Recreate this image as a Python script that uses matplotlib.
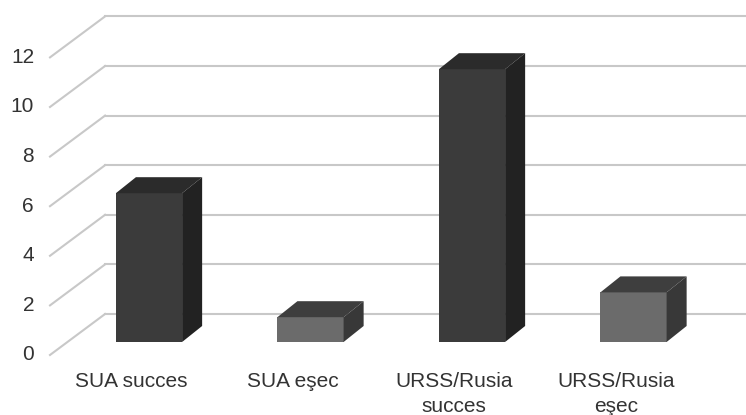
import numpy as np
import matplotlib.pyplot as plt
from matplotlib.patches import Polygon

# data
categories = ['SUA succes', 'SUA eşec', 'URSS/Rusia\nsucces', 'URSS/Rusia\neşec']
values = [6, 1, 11, 2]
yticks = [0, 2, 4, 6, 8, 10, 12]

# colours: front, top, side
front_cols = ['#3b3b3b', '#6b6b6b', '#3b3b3b', '#6b6b6b']
top_cols = ['#2b2b2b', '#3e3e3e', '#2b2b2b', '#3e3e3e']
side_cols = ['#222222', '#383838', '#222222', '#383838']

plt.rcParams['font.family'] = ['Liberation Sans', 'DejaVu Sans']

fig = plt.figure(figsize=(7.46, 4.15), dpi=100)
ax = fig.add_axes([0, 0, 1, 1])
ax.set_xlim(-0.9226, 3.6966)
ax.set_ylim(-2.944, 13.79)
ax.axis('off')

# fake 3d frame: front plane -> back wall
fx, fy = -0.613, -0.524
bx, by = -0.272, 1.129
grid_c = '#c8c8c8'
for v in yticks:
    ax.plot([fx, bx], [fy + v, by + v], color=grid_c, lw=1.5, zorder=1)
    ax.plot([bx, ax.get_xlim()[1]], [by + v, by + v], color=grid_c, lw=1.5, zorder=1)
    ax.text(-0.712, fy + v, str(v), ha='right', va='center', fontsize=15, color='#333333')

# bars
w = 0.41
ddx, ddy = 0.124, 0.645
x = np.arange(len(values))
ax.bar(x, values, width=w, color=front_cols, zorder=3)
for xi, v, tc, sc in zip(x, values, top_cols, side_cols):
    l, r = xi - w / 2, xi + w / 2
    top = Polygon([[l, v], [r, v], [r + ddx, v + ddy], [l + ddx, v + ddy]], closed=True,
                  facecolor=tc, edgecolor='none', zorder=3)
    side = Polygon([[r, 0], [r + ddx, ddy], [r + ddx, v + ddy], [r, v]], closed=True,
                   facecolor=sc, edgecolor='none', zorder=3)
    ax.add_patch(top)
    ax.add_patch(side)

# category labels (centred on the front floor, a bit left of the bars)
for xi, c in zip(x, categories):
    ax.text(xi - 0.11, -1.2, c, ha='center', va='top', fontsize=15, color='#333333',
            linespacing=1.4)

plt.savefig('out.png', dpi=100)
